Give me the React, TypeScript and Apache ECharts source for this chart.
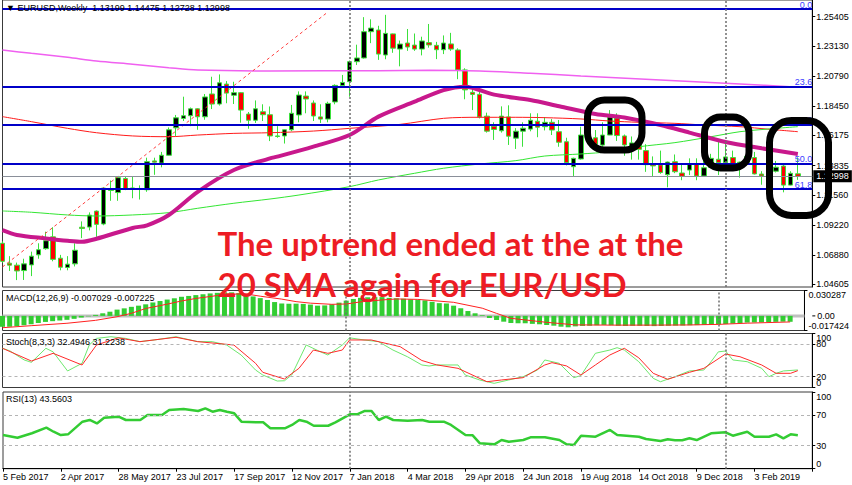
import React, { useEffect, useRef } from 'react';
import * as echarts from 'echarts';

// ---------- data ----------
const weekLabels = ['5 Feb 2017', '2 Apr 2017', '28 May 2017', '23 Jul 2017', '17 Sep 2017', '12 Nov 2017', '7 Jan 2018', '4 Mar 2018', '29 Apr 2018', '24 Jun 2018', '19 Aug 2018', '14 Oct 2018', '9 Dec 2018', '3 Feb 2019'];
const SLOTS = 113; // 111 weekly bars + chart shift

// [open, close, low, high]
const ohlc = [
  [1.0780, 1.0640, 1.0630, 1.0795], [1.0625, 1.0610, 1.0565, 1.0680], [1.0610, 1.0565, 1.0494, 1.0630], [1.0568, 1.0620, 1.0495, 1.0660],
  [1.0612, 1.0680, 1.0525, 1.0715], [1.0690, 1.0730, 1.0660, 1.0780], [1.0738, 1.0800, 1.0730, 1.0870], [1.0830, 1.0655, 1.0640, 1.0905],
  [1.0664, 1.0594, 1.0570, 1.0690], [1.0592, 1.0618, 1.0570, 1.0680], [1.0620, 1.0726, 1.0600, 1.0780], [1.0905, 1.0895, 1.0820, 1.0950],
  [1.0906, 1.0999, 1.0880, 1.1020], [1.1030, 1.0927, 1.0830, 1.1035], [1.0930, 1.1209, 1.0920, 1.1212], [1.1200, 1.1190, 1.1110, 1.1268],
  [1.1174, 1.1290, 1.1110, 1.1295], [1.1283, 1.1198, 1.1193, 1.1296], [1.1200, 1.1210, 1.1130, 1.1296], [1.1200, 1.1206, 1.1120, 1.1230],
  [1.1196, 1.1414, 1.1180, 1.1445], [1.1420, 1.1410, 1.1312, 1.1445], [1.1403, 1.1464, 1.1370, 1.1490], [1.1464, 1.1662, 1.1460, 1.1680],
  [1.1677, 1.1755, 1.1612, 1.1777], [1.1750, 1.1771, 1.1730, 1.1919], [1.1771, 1.1825, 1.1690, 1.1835], [1.1825, 1.1763, 1.1662, 1.1830],
  [1.1763, 1.1917, 1.1740, 1.1940], [1.1940, 1.1862, 1.1823, 1.2074], [1.1862, 1.2027, 1.1850, 1.2092], [1.2017, 1.1947, 1.1868, 1.2040],
  [1.1930, 1.1950, 1.1862, 1.2035], [1.1950, 1.1815, 1.1717, 1.1955], [1.1784, 1.1736, 1.1670, 1.1800], [1.1736, 1.1825, 1.1715, 1.1890],
  [1.1802, 1.1779, 1.1730, 1.1860], [1.1779, 1.1614, 1.1574, 1.1843], [1.1614, 1.1610, 1.1600, 1.1690], [1.1614, 1.1662, 1.1555, 1.1665],
  [1.1662, 1.1790, 1.1650, 1.1855], [1.1777, 1.1932, 1.1720, 1.1960], [1.1924, 1.1901, 1.1790, 1.1960], [1.1870, 1.1769, 1.1730, 1.1890],
  [1.1762, 1.1745, 1.1715, 1.1860], [1.1745, 1.1867, 1.1720, 1.1880], [1.1878, 1.2007, 1.1860, 1.2015], [1.2005, 1.2030, 1.2000, 1.2088],
  [1.2036, 1.2191, 1.1919, 1.2200], [1.2191, 1.2220, 1.2165, 1.2323], [1.2220, 1.2424, 1.2215, 1.2537], [1.2424, 1.2452, 1.2335, 1.2520],
  [1.2437, 1.2250, 1.2205, 1.2470], [1.2243, 1.2411, 1.2210, 1.2555], [1.2407, 1.2296, 1.2260, 1.2410], [1.2289, 1.2328, 1.2155, 1.2355],
  [1.2336, 1.2305, 1.2275, 1.2445], [1.2320, 1.2289, 1.2275, 1.2410], [1.2289, 1.2352, 1.2240, 1.2385], [1.2339, 1.2321, 1.2300, 1.2484],
  [1.2318, 1.2284, 1.2211, 1.2345], [1.2284, 1.2336, 1.2250, 1.2395], [1.2329, 1.2289, 1.2275, 1.2415], [1.2282, 1.2127, 1.2055, 1.2295],
  [1.2127, 1.1972, 1.1899, 1.2140], [1.1953, 1.1937, 1.1815, 1.1995], [1.1937, 1.1762, 1.1750, 1.1995], [1.1768, 1.1651, 1.1640, 1.1795],
  [1.1690, 1.1664, 1.1583, 1.1720], [1.1654, 1.1768, 1.1640, 1.1844], [1.1762, 1.1612, 1.1544, 1.1852], [1.1597, 1.1651, 1.1513, 1.1675],
  [1.1651, 1.1674, 1.1530, 1.1720], [1.1667, 1.1736, 1.1650, 1.1790], [1.1728, 1.1682, 1.1604, 1.1790], [1.1686, 1.1720, 1.1657, 1.1761],
  [1.1720, 1.1660, 1.1621, 1.1745], [1.1647, 1.1565, 1.1530, 1.1738], [1.1569, 1.1406, 1.1385, 1.1600], [1.1375, 1.1440, 1.1303, 1.1445],
  [1.1435, 1.1621, 1.1430, 1.1686], [1.1620, 1.1600, 1.1590, 1.1734], [1.1600, 1.1550, 1.1510, 1.1660], [1.1543, 1.1621, 1.1530, 1.1720],
  [1.1621, 1.1761, 1.1620, 1.1815], [1.1753, 1.1617, 1.1575, 1.1790], [1.1614, 1.1544, 1.1460, 1.1625], [1.1525, 1.1560, 1.1430, 1.1610],
  [1.1560, 1.1510, 1.1430, 1.1620], [1.1500, 1.1391, 1.1335, 1.1550], [1.1396, 1.1381, 1.1300, 1.1455], [1.1389, 1.1330, 1.1320, 1.1500],
  [1.1313, 1.1411, 1.1215, 1.1415], [1.1414, 1.1336, 1.1325, 1.1470], [1.1326, 1.1300, 1.1270, 1.1400], [1.1349, 1.1396, 1.1310, 1.1440],
  [1.1396, 1.1303, 1.1270, 1.1440], [1.1303, 1.1367, 1.1300, 1.1485], [1.1370, 1.1440, 1.1365, 1.1475], [1.1433, 1.1406, 1.1310, 1.1570],
  [1.1406, 1.1451, 1.1405, 1.1573], [1.1446, 1.1395, 1.1355, 1.1500], [1.1365, 1.1410, 1.1290, 1.1415], [1.1410, 1.1455, 1.1400, 1.1515],
  [1.1446, 1.1319, 1.1315, 1.1490], [1.1318, 1.1303, 1.1235, 1.1340], [1.1295, 1.1335, 1.1275, 1.1370], [1.1340, 1.1371, 1.1330, 1.1420],
  [1.1380, 1.1232, 1.1176, 1.1390], [1.1232, 1.1324, 1.1230, 1.1340], [1.13199, 1.12998, 1.12728, 1.14475],
];

const priceTicks = [1.04605, 1.0688, 1.0922, 1.1156, 1.13835, 1.16175, 1.1845, 1.2079, 1.2313, 1.25405];
const priceMin = 1.04403;
const priceMax = 1.26703;

const fibLevels = ['0.0', '23.6', '38.2', '50.0', '61.8'];
const fibPrices = [1.2572, 1.2041, 1.1709, 1.1447, 1.1186];
const yearSeparators = [48, 100];
const trendLine = [[0, 1.0596], [45, 1.2577]];

const sma20 = [[0, 1.0883], [2, 1.0845], [6, 1.0818], [9, 1.0800], [11, 1.0792], [13, 1.0815], [18, 1.0899], [20, 1.0920], [23, 1.1000], [27, 1.1180], [32, 1.1349], [37, 1.1440], [38, 1.1453], [43, 1.1531], [48, 1.1621], [52, 1.1764], [57, 1.1880], [61, 1.1970], [64, 1.1997], [68, 1.1935], [73, 1.1893], [77, 1.1845], [82, 1.1785], [86, 1.1757], [91, 1.1699], [95, 1.1640], [100, 1.1567], [105, 1.1518], [110, 1.1474]];
const maGreen = [[0, 1.1031], [4, 1.1021], [9, 1.1000], [13, 1.0992], [18, 1.1000], [23, 1.1018], [27, 1.1052], [32, 1.1091], [37, 1.1124], [41, 1.1155], [48, 1.1220], [52, 1.1272], [57, 1.1324], [61, 1.1363], [66, 1.1396], [71, 1.1422], [75, 1.1458], [80, 1.1474], [84, 1.1492], [88, 1.1530], [93, 1.1562], [98, 1.1608], [102, 1.1647], [107, 1.1673], [110, 1.1686]];
const maRed = [[0, 1.1764], [4, 1.1725], [9, 1.1673], [13, 1.1639], [18, 1.1614], [23, 1.1608], [27, 1.1621], [32, 1.1634], [37, 1.1639], [43, 1.1652], [48, 1.1673], [55, 1.1704], [61, 1.1751], [66, 1.1759], [71, 1.1759], [75, 1.1756], [80, 1.1746], [84, 1.1730], [88, 1.1720], [93, 1.1712], [97, 1.1699], [102, 1.1686], [106, 1.1666], [110, 1.1647]];
const maViolet = [[0, 1.2282], [4, 1.2256], [9, 1.2225], [13, 1.2196], [18, 1.2171], [23, 1.2144], [27, 1.2126], [37, 1.2119], [52, 1.2121], [59, 1.2124], [66, 1.2119], [73, 1.2101], [80, 1.2080], [91, 1.2049], [102, 1.2018], [110, 1.1992]];

const macdMain = [
  -0.0130, -0.0130, -0.0125, -0.0112, -0.0100, -0.0085, -0.0072, -0.0063, -0.0055, -0.0047,
  -0.0035, -0.0020, -0.0005, 0.0012, 0.0031, 0.0050, 0.0075, 0.0090, 0.0108, 0.0122,
  0.0138, 0.0160, 0.0178, 0.0195, 0.0210, 0.0228, 0.0238, 0.0248, 0.0258, 0.0268,
  0.0275, 0.0282, 0.0281, 0.0272, 0.0258, 0.0232, 0.0212, 0.0190, 0.0165, 0.0148,
  0.0145, 0.0146, 0.0143, 0.0135, 0.0122, 0.0125, 0.0138, 0.0158, 0.0182, 0.0202,
  0.0215, 0.0222, 0.0225, 0.0224, 0.0215, 0.0210, 0.0205, 0.0198, 0.0192, 0.0185,
  0.0168, 0.0152, 0.0148, 0.0122, 0.0091, 0.0058, 0.0031, 0.0008, -0.0025, -0.0049,
  -0.0069, -0.0085, -0.0088, -0.0088, -0.0095, -0.0100, -0.0109, -0.0117, -0.0129, -0.0136,
  -0.0125, -0.0120, -0.0118, -0.0112, -0.0108, -0.0112, -0.0118, -0.0120, -0.0118, -0.0118,
  -0.0120, -0.0122, -0.0120, -0.0118, -0.0116, -0.0115, -0.0112, -0.0110, -0.0107, -0.0103,
  -0.0100, -0.0097, -0.0092, -0.0085, -0.0080, -0.0078, -0.0077, -0.0075, -0.0071, -0.0069,
  -0.007029,
];
const macdSignal = [[0, -0.0141], [4, -0.0117], [9, -0.0088], [13, -0.0053], [16, -0.0010], [18, 0.0031], [20, 0.0088], [23, 0.0140], [25, 0.0178], [27, 0.0208], [30, 0.0243], [32, 0.0260], [34, 0.0262], [36, 0.0235], [39, 0.0200], [41, 0.0170], [43, 0.0152], [46, 0.0138], [48, 0.0142], [50, 0.0167], [53, 0.0190], [55, 0.0202], [58, 0.0197], [63, 0.0162], [67, 0.0092], [69, 0.0030], [71, -0.0029], [76, -0.0077], [80, -0.0107], [85, -0.0110], [90, -0.0110], [96, -0.0108], [100, -0.0101], [104, -0.0087], [110, -0.007225]];
const macdRange = [-0.017424, 0.030287];
const macdZeroLine = [[0, 0], [SLOTS - 1, 0]];
const macdZeroLabel = '0.00';

const stochK = [[0, 72.6], [1, 68], [3, 51], [4, 46.6], [6, 72.6], [7, 66], [9, 30.6], [11, 44.8], [12, 78.7], [13, 91], [15, 94], [17, 91], [19, 84.9], [21, 88], [24, 94], [25, 91], [27, 84.9], [29, 84.9], [31, 78.7], [33, 60.2], [35, 32.4], [36, 23.1], [38, 12], [39, 12.5], [40, 23.1], [42, 78.7], [44, 66], [45, 60.2], [47, 78.7], [48, 92], [50, 88], [52, 84.9], [54, 69.4], [56, 57], [58, 41.7], [59, 39.8], [60, 41.7], [63, 41.7], [64, 23.1], [66, 13.9], [68, 7.7], [70, 13.9], [72, 20], [74, 32.4], [75, 51], [77, 44.8], [79, 18.2], [80, 22], [82, 63.3], [84, 69.4], [85, 73.7], [86, 69.4], [88, 47.8], [90, 17], [91, 10.7], [93, 20], [95, 30.6], [97, 32.4], [98, 47.8], [99, 66], [100, 67.6], [101, 51], [103, 47.8], [105, 35.5], [106, 20], [107, 26.3], [108, 30.6], [110, 32.4946]];
const stochD = [[0, 72.6], [4, 49], [7, 63.3], [11, 41.7], [13, 78.7], [16, 92], [19, 84.9], [24, 93], [27, 84.9], [32, 78.7], [35, 44.8], [36, 28.1], [39, 15.7], [41, 35.5], [43, 69.4], [45, 63.3], [47, 69.4], [48, 88], [51, 88], [55, 75.6], [58, 50], [60, 42], [63, 35.5], [67, 10.7], [69, 13.9], [72, 18.2], [75, 41.7], [76, 46], [78, 40], [80, 23.1], [82, 41.7], [84, 60.2], [86, 72.6], [88, 55], [90, 26.3], [92, 15.2], [95, 28.1], [97, 35.5], [100, 62], [102, 57], [105, 41.7], [107, 26.3], [109, 26.3], [110, 31.2238]];
const oscRange = [0, 100];
const stochLevels = [20, 80];

const rsi = [[0, 43.9], [2, 40.4], [4, 46.2], [6, 53.5], [7, 48.2], [8, 43.9], [9, 44.8], [11, 61.3], [12, 63.5], [13, 59], [14, 66.5], [16, 67.8], [17, 63.5], [19, 63.5], [20, 70], [22, 70], [23, 76.5], [25, 77.8], [27, 75.2], [28, 78.7], [29, 74.3], [30, 76.5], [31, 74.3], [32, 72.2], [33, 61.3], [35, 60.5], [36, 60.5], [37, 52.7], [39, 52.7], [40, 57], [41, 63.5], [42, 61.3], [43, 56], [45, 56], [46, 60.5], [47, 65.7], [48, 70.9], [49, 70.9], [50, 75.2], [51, 75.2], [52, 63.5], [53, 67.8], [54, 63.5], [56, 62.6], [58, 63.5], [59, 61.3], [61, 61.3], [62, 57], [64, 43.9], [65, 43.5], [66, 33.1], [68, 31.8], [69, 37.4], [70, 35.2], [72, 37.4], [73, 40.9], [75, 40.9], [77, 37.4], [78, 31.8], [79, 30.9], [80, 43], [82, 41.7], [84, 50.5], [85, 43.9], [88, 41.7], [89, 38.7], [91, 36.1], [92, 38.5], [93, 37], [94, 37], [95, 39.6], [96, 37.4], [98, 46.2], [100, 47.4], [101, 43], [103, 48.2], [104, 41.7], [106, 41.7], [107, 44.8], [108, 39.6], [109, 44.8], [110, 43.5603]];
const rsiLevels = [30, 70];

const headline = ['The uptrend ended at the at the', '20 SMA again for EUR/USD'];

// ---------- styling ----------
const FONT = '"Liberation Sans", Arial, sans-serif';
const GREEN = '#3CE03C';
const GRID_LEFT = 2.5;
const GRID_W = 809.8;
const MACD_TOP = 290.5;
const MACD_H = 40;
const cats = Array.from({ length: SLOTS }, (_, i) => String(i));

const gridBox = (top: number, height: number) => ({
  left: GRID_LEFT, top, width: GRID_W, height, show: true,
  borderColor: '#3a3a3a', borderWidth: 1, backgroundColor: 'transparent',
});

const mkX = (gi: number, show: boolean) => ({
  type: 'category', gridIndex: gi, data: cats, boundaryGap: false,
  axisLine: { show, onZero: false, lineStyle: { color: '#000' } },
  axisTick: { show, interval: 7, length: 3, lineStyle: { color: '#000' } },
  axisLabel: {
    show, interval: 7, align: 'left', margin: 4, color: '#000', fontSize: 9, fontFamily: FONT, hideOverlap: false,
    formatter: (_v: string, i: number) => weekLabels[i / 8] ?? '',
  },
  splitLine: { show: false },
});

// value axis on the right; "edge" axes carry only the min/max labels so that
// they are not hidden by the overlap check against the inner labels
const mkY = (gi: number, min: number, max: number, ticks: number[], fmt: (v: number) => string, edge: boolean, line = true) => ({
  type: 'value', gridIndex: gi, position: 'right', min, max,
  axisLine: { show: line, onZero: false, lineStyle: { color: '#000' } },
  axisTick: { show: true, length: 3, customValues: ticks, lineStyle: { color: '#000' } },
  axisLabel: {
    show: true, customValues: ticks, color: '#000', fontSize: 9, fontFamily: FONT, margin: 4,
    hideOverlap: false,
    formatter: fmt,
    ...(edge ? { verticalAlignMinLabel: 'bottom', verticalAlignMaxLabel: 'top' } : {}),
  },
  splitLine: { show: false },
});

const sepLines = yearSeparators.map((s) => ({
  xAxis: String(s),
  lineStyle: { color: '#6e6e6e', type: [2, 2], width: 1.5 },
  label: { show: false },
}));

const levelLines = (levels: number[]) => levels.map((v) => ({
  yAxis: v, lineStyle: { color: '#b4b4b4', type: [3, 3], width: 1 }, label: { show: false },
}));

const markBase = { symbol: ['none', 'none'], silent: true, animation: false };

const last = ohlc[ohlc.length - 1];
const lastClose = last[1];
const f5 = (v: number) => v.toFixed(5);
const macdFmt = (v: number) => v.toFixed(6);

// position of the MACD zero on its value scale
const macdZeroY = MACD_TOP + MACD_H * (macdRange[1] - 0) / (macdRange[1] - macdRange[0]);
const axisX = GRID_LEFT + GRID_W;

const titleTexts = [
  { text: `▼ EURUSD,Weekly  ${f5(last[0])} ${f5(last[3])} ${f5(last[2])} ${f5(last[1])}`, y: 7.5 },
  { text: `MACD(12,26,9) ${macdMain[macdMain.length - 1].toFixed(6)} ${macdSignal[macdSignal.length - 1][1].toFixed(6)}`, y: 298 },
  { text: `Stoch(8,3,3) ${stochK[stochK.length - 1][1].toFixed(4)} ${stochD[stochD.length - 1][1].toFixed(4)}`, y: 342 },
  { text: `RSI(13) ${rsi[rsi.length - 1][1].toFixed(4)}`, y: 399 },
];

const annotationBoxes = [
  { x: 587.5, y: 100, width: 54.5, height: 50, r: 17 },
  { x: 704.5, y: 117, width: 44.5, height: 51, r: 16 },
  { x: 769.5, y: 120.5, width: 59, height: 95, r: 22 },
];

const lineSeries = (data: number[][], xi: number, yi: number, color: string, width: number, extra: any = {}) => ({
  type: 'line', xAxisIndex: xi, yAxisIndex: yi, data, symbol: 'none', showSymbol: false,
  lineStyle: { color, width }, silent: true, ...extra,
});

const option: any = {
  animation: false,
  backgroundColor: '#ffffff',
  grid: [gridBox(0, 287), gridBox(MACD_TOP, MACD_H), gridBox(333.5, 54), gridBox(392, 76.7)],
  xAxis: [mkX(0, false), mkX(1, false), mkX(2, false), mkX(3, true)],
  yAxis: [
    mkY(0, priceMin, priceMax, priceTicks, f5, false),
    mkY(1, macdRange[0], macdRange[1], macdRange, macdFmt, true),
    mkY(2, oscRange[0], oscRange[1], stochLevels, (v) => String(v), false),
    mkY(3, oscRange[0], oscRange[1], rsiLevels, (v) => String(v), false),
    mkY(2, oscRange[0], oscRange[1], oscRange, (v) => String(v), true, false),
    mkY(3, oscRange[0], oscRange[1], oscRange, (v) => String(v), true, false),
  ],
  series: [
    {
      type: 'candlestick', xAxisIndex: 0, yAxisIndex: 0, data: ohlc, barWidth: 5, silent: true,
      itemStyle: { color: '#000000', color0: '#ff0000', borderColor: GREEN, borderColor0: GREEN, borderWidth: 1 },
      markLine: {
        ...markBase,
        data: [
          ...fibPrices.map((p, i) => ({
            yAxis: p,
            lineStyle: { color: '#0000c8', width: 2, type: 'solid' },
            label: { show: true, formatter: fibLevels[i], position: 'insideEndTop', distance: 0, color: '#3c3cff', fontSize: 9, fontFamily: FONT },
          })),
          {
            yAxis: lastClose,
            lineStyle: { color: '#8a8f99', width: 1, type: 'solid' },
            label: { show: true, position: 'end', distance: 1, formatter: f5(lastClose), backgroundColor: '#000', color: '#fff', padding: [2, 3, 1, 3], fontSize: 9, fontFamily: FONT },
          },
          ...sepLines,
        ],
      },
    },
    lineSeries(maViolet, 0, 0, '#f060f0', 1.5, { smooth: 0.3 }),
    lineSeries(maRed, 0, 0, '#ff1a1a', 1, { smooth: 0.3 }),
    lineSeries(maGreen, 0, 0, '#33e633', 1, { smooth: 0.3 }),
    lineSeries(sma20, 0, 0, '#c8188c', 4, { smooth: 0.3 }),
    lineSeries(trendLine, 0, 0, '#ff4040', 1, { lineStyle: { color: '#ff4040', width: 1, type: [3, 3] } }),
    lineSeries(macdZeroLine, 1, 1, '#c0c0c0', 3, { z: 1 }),
    {
      type: 'bar', xAxisIndex: 1, yAxisIndex: 1, data: macdMain, barWidth: 5, silent: true, z: 2,
      itemStyle: { color: '#32cd32' },
      markLine: { ...markBase, data: [...sepLines] },
    },
    lineSeries(macdSignal, 1, 1, '#ff2020', 1, { z: 3 }),
    lineSeries(stochK, 2, 2, '#6ee86e', 1, { markLine: { ...markBase, data: [...levelLines(stochLevels), ...sepLines] } }),
    lineSeries(stochD, 2, 2, '#ff2a2a', 1),
    lineSeries(rsi, 3, 3, '#33cc33', 2.5, { markLine: { ...markBase, data: [...levelLines(rsiLevels), ...sepLines] } }),
  ],
  graphic: [
    ...titleTexts.map((t) => ({
      type: 'text', x: 6, y: t.y, z: 50, silent: true,
      style: { text: t.text, fill: '#000', fontSize: 9, fontFamily: FONT, align: 'left', verticalAlign: 'middle' },
    })),
    {
      type: 'text', x: axisX + 5, y: macdZeroY, z: 50, silent: true,
      style: { text: macdZeroLabel, fill: '#000', fontSize: 9, fontFamily: FONT, align: 'left', verticalAlign: 'middle' },
    },
    {
      type: 'line', z: 50, silent: true,
      shape: { x1: axisX, y1: macdZeroY, x2: axisX + 3, y2: macdZeroY },
      style: { stroke: '#000', lineWidth: 1 },
    },
    ...annotationBoxes.map((b) => ({
      type: 'rect', z: 60, silent: true,
      shape: { x: b.x, y: b.y, width: b.width, height: b.height, r: b.r },
      style: { fill: 'rgba(0,0,0,0)', stroke: '#000', lineWidth: 7 },
    })),
    ...headline.map((t, i) => ({
      type: 'text', x: 217.5, y: i === 0 ? 242.5 : 284, z: 70, silent: true,
      style: { text: t, fill: '#ed1c24', fontSize: 33, fontWeight: 'bold', fontFamily: 'Lato, "Open Sans", sans-serif', align: 'left', verticalAlign: 'middle' },
    })),
  ],
};

export default function App() {
  const ref = useRef<HTMLDivElement>(null);
  useEffect(() => {
    if (!ref.current) return;
    const chart = echarts.init(ref.current, null, { renderer: 'svg' });
    chart.setOption(option);
    return () => chart.dispose();
  }, []);
  return (
    <div
      ref={ref}
      style={{ position: 'fixed', left: 0, top: 0, width: 852, height: 485, background: '#fff' }}
    />
  );
}
